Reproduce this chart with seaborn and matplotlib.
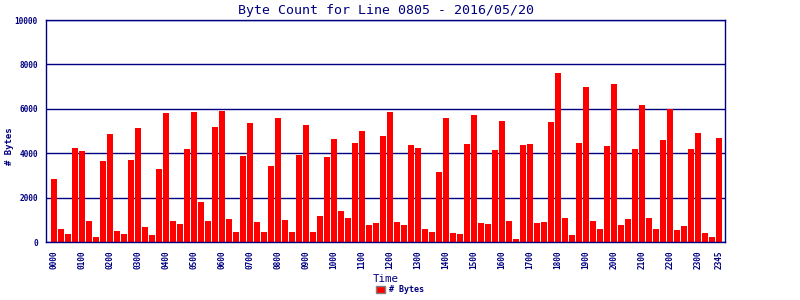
import matplotlib
matplotlib.use("Agg")
import matplotlib.pyplot as plt
from matplotlib.patches import Patch
import seaborn as sns
import pandas as pd

# ---- data ----
times = [f"{h:02d}{m:02d}" for h in range(24) for m in (0, 15, 30, 45)]
byte_counts = [
    2840, 600, 370, 4240, 4100, 957, 240, 3650, 4870, 510, 370, 3700,
    5140, 690, 330, 3290, 5810, 957, 820, 4190, 5860, 1810, 957, 5180,
    5900, 1050, 460, 3880, 5360, 910, 460, 3430, 5590, 1000, 460, 3920,
    5270, 460, 1180, 3830, 4640, 1410, 1090, 4460, 5000, 780, 870, 4780,
    5860, 910, 780, 4370, 4240, 600, 460, 3160, 5590, 420, 370, 4420,
    5720, 870, 820, 4150, 5450, 957, 150, 4370, 4420, 870, 910, 5400,
    7610, 1090, 330, 4460, 6980, 957, 600, 4330, 7110, 780, 1050, 4190,
    6170, 1090, 600, 4600, 5990, 550, 730, 4190, 4910, 420, 240, 4690,
]
tick_labels = [t for i, t in enumerate(times) if i % 4 == 0] + ["2345"]
y_ticks = [0, 2000, 4000, 6000, 8000, 10000]
title = "Byte Count for Line 0805 - 2016/05/20"
series_name = "# Bytes"

df = pd.DataFrame({"Time": times, "Bytes": byte_counts})

NAVY = "#000080"
sns.set_style("white")
plt.rcParams["font.family"] = ["DejaVu Sans Mono", "DejaVu Sans"]

fig = plt.figure(figsize=(8, 3), dpi=100)
ax = fig.add_axes([46 / 800, 1 - 242 / 300, (725 - 46) / 800, (242 - 20) / 300])

sns.barplot(data=df, x="Time", y="Bytes", color="#FF0000", saturation=1,
            width=0.86, linewidth=0, ax=ax, order=times)

ax.set_xlim(-1.14, 95.86)
ax.set_ylim(0, 10000)
ax.set_axisbelow(True)
ax.yaxis.grid(True, color=NAVY, linewidth=1.0)
ax.xaxis.grid(False)

tick_pos = [times.index(t) for t in tick_labels]
ax.set_xticks(tick_pos)
ax.set_xticklabels(tick_labels, rotation=90, fontsize=5.6, fontweight="bold", color=NAVY)
ax.set_yticks(y_ticks)
ax.set_yticklabels([str(v) for v in y_ticks], fontsize=5.6, fontweight="bold", color=NAVY)
ax.tick_params(axis="x", length=0, pad=6)
ax.tick_params(axis="y", length=4, width=1.2, color=NAVY, pad=2)

for s in ax.spines.values():
    s.set_visible(True)
    s.set_color(NAVY)
    s.set_linewidth(1.0)

ax.set_title(title, fontsize=9.5, color=NAVY, pad=4)
ax.set_xlabel("Time", fontsize=7.8, color=NAVY, labelpad=4)
ax.set_ylabel(series_name, fontsize=6.5, fontweight="bold", color=NAVY)
ax.yaxis.set_label_coords(-0.047, 0.43)

handle = Patch(facecolor="#FF0000", edgecolor="#808080", linewidth=1.0, label=series_name)
leg = fig.legend(handles=[handle], loc="lower center", bbox_to_anchor=(0.5, -0.005),
                 frameon=False, prop={"size": 6, "weight": "bold"},
                 handlelength=1.1, handleheight=0.9, handletextpad=0.4)
for t in leg.get_texts():
    t.set_color(NAVY)

fig.savefig("out.png", dpi=100)
